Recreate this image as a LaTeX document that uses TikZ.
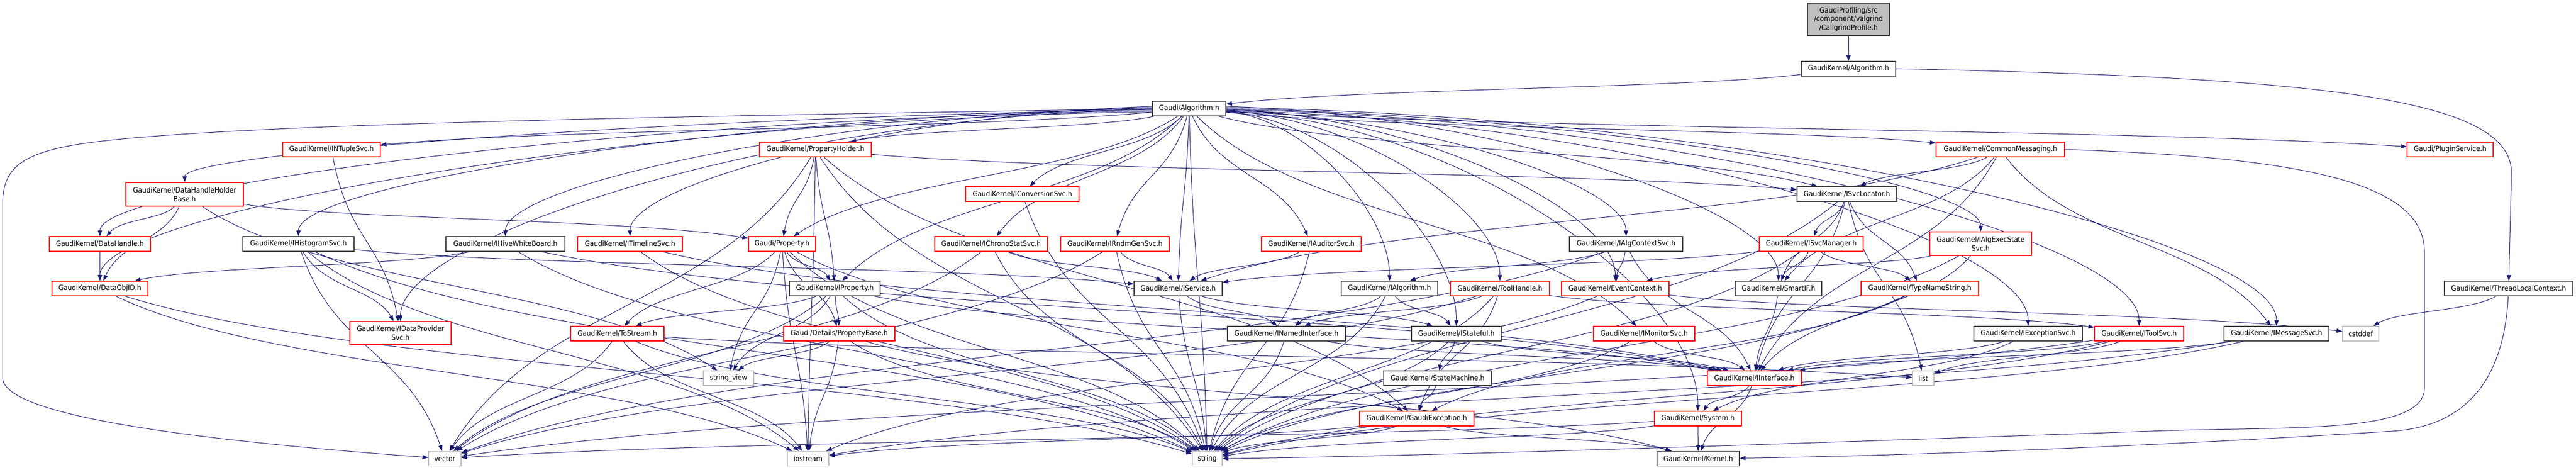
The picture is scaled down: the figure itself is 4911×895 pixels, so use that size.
\documentclass[tikz,border=0pt]{standalone}
\usepackage{fontspec}
\setmainfont[FakeStretch=0.9]{DejaVu Sans}
\usetikzlibrary{arrows.meta,calc}
\definecolor{edgec}{HTML}{191970}
\definecolor{redb}{HTML}{FF0000}
\definecolor{blkb}{HTML}{404040}
\definecolor{grayb}{HTML}{C0C0C0}
\definecolor{rootf}{HTML}{BFBFBF}
\pgfdeclarelayer{bg}
\pgfsetlayers{bg,main}
\newcommand\nfont{\fontsize{14}{16.7}\selectfont}
\tikzset{
 box/.style={rectangle, draw, fill=white, inner sep=0pt, line width=1.3pt, font=\nfont, align=center, text=black},
 redbox/.style={box, draw=redb},
 blkbox/.style={box, draw=blkb},
 grybox/.style={box, draw=grayb},
 rootbox/.style={box, draw=blkb, fill=rootf},
 dep/.style={draw=edgec, line width=1pt, -{Triangle[length=11pt,width=8pt]}},
}
\newcommand\Nd[7]{\node[#6,minimum width=#4pt,minimum height=#5pt] (#1) at (#2,#3) {#7};}
\newcommand\Ed[3][]{%
  \path ($(#2)!0.25!(#3)$) coordinate (q1) ($(#2)!0.5!(#3)$) coordinate (q2) ($(#2)!0.75!(#3)$) coordinate (q3);
  \draw[dep,#1] (#2) .. controls (q1 |- q2) and (q3 |- q2) .. (#3);}
\newcommand\GLe[2][0]{%
  \draw[dep] let \p1=(#2.north), \p2=($(ga.west)+(0,#1)$) in (\p2) .. controls ({\x1+0.5*(\x2-\x1)},{\y2-15pt}) and (\x1,{\y2+0.6*(\y1-\y2)}) .. (#2);}
\newcommand\GRe[2][0]{%
  \draw[dep] let \p1=(#2.north), \p2=($(ga.east)+(0,#1)$) in (\p2) .. controls ({\x1+0.5*(\x2-\x1)},{\y2-15pt}) and (\x1,{\y2+0.6*(\y1-\y2)}) .. (#2);}
\begin{document}
\begin{tikzpicture}[x=1pt,y=-1pt]
\useasboundingbox (0,0) rectangle (4911,895);
\Nd{cg}{3524}{37}{156}{62}{rootbox}{GaudiProfiling/src\\/component/valgrind\\/CallgrindProfile.h}
\Nd{gka}{3524}{131}{180}{28}{blkbox}{GaudiKernel/Algorithm.h}
\Nd{ga}{2267}{207}{140}{28}{blkbox}{Gaudi/Algorithm.h}
\Nd{ntup}{632}{285}{186}{28}{redbox}{GaudiKernel/INTupleSvc.h}
\Nd{ph}{1554.5}{285}{213}{28}{redbox}{GaudiKernel/PropertyHolder.h}
\Nd{cm}{3813.5}{285}{245}{28}{redbox}{GaudiKernel/CommonMessaging.h}
\Nd{plug}{4671}{285}{164}{28}{redbox}{Gaudi/PluginService.h}
\Nd{dhhb}{352}{370.5}{224}{45}{redbox}{GaudiKernel/DataHandleHolder\\Base.h}
\Nd{conv}{1949}{370}{216}{28}{redbox}{GaudiKernel/IConversionSvc.h}
\Nd{svcloc}{3521}{370}{190}{28}{blkbox}{GaudiKernel/ISvcLocator.h}
\Nd{dh}{190.5}{465}{193}{28}{redbox}{GaudiKernel/DataHandle.h}
\Nd{hist}{569}{465}{212}{28}{blkbox}{GaudiKernel/IHistogramSvc.h}
\Nd{hive}{963.5}{465}{227}{28}{blkbox}{GaudiKernel/IHiveWhiteBoard.h}
\Nd{tl}{1201}{465}{200}{28}{redbox}{GaudiKernel/ITimelineSvc.h}
\Nd{prop}{1491}{465}{128}{28}{redbox}{Gaudi/Property.h}
\Nd{chrono}{1889.5}{465}{215}{28}{redbox}{GaudiKernel/IChronoStatSvc.h}
\Nd{rndm}{2125.5}{465}{207}{28}{redbox}{GaudiKernel/IRndmGenSvc.h}
\Nd{aud}{2500}{465}{190}{28}{redbox}{GaudiKernel/IAuditorSvc.h}
\Nd{actx}{3100}{465}{216}{28}{blkbox}{GaudiKernel/IAlgContextSvc.h}
\Nd{svcmgr}{3453}{465}{198}{28}{redbox}{GaudiKernel/ISvcManager.h}
\Nd{aexec}{3776}{464.5}{194}{45}{redbox}{GaudiKernel/IAlgExecState\\Svc.h}
\Nd{doid}{190.5}{550}{183}{28}{redbox}{GaudiKernel/DataObjID.h}
\Nd{iprop}{1591.5}{550}{173}{28}{blkbox}{GaudiKernel/IProperty.h}
\Nd{isvc}{2246}{550}{168}{28}{blkbox}{GaudiKernel/IService.h}
\Nd{ialg}{2649}{550}{184}{28}{blkbox}{GaudiKernel/IAlgorithm.h}
\Nd{tool}{2859.5}{550}{189}{28}{redbox}{GaudiKernel/ToolHandle.h}
\Nd{ectx}{3079.5}{550}{205}{28}{redbox}{GaudiKernel/EventContext.h}
\Nd{smart}{3390.5}{550}{165}{28}{blkbox}{GaudiKernel/SmartIF.h}
\Nd{tns}{3660}{550}{224}{28}{redbox}{GaudiKernel/TypeNameString.h}
\Nd{tlc}{4782.5}{550}{245}{28}{blkbox}{GaudiKernel/ThreadLocalContext.h}
\Nd{dps}{763.5}{635}{193}{44}{redbox}{GaudiKernel/IDataProvider\\Svc.h}
\Nd{tos}{1177}{636}{178}{28}{redbox}{GaudiKernel/ToStream.h}
\Nd{pbase}{1600}{636}{212}{28}{redbox}{Gaudi/Details/PropertyBase.h}
\Nd{nif}{2452.5}{636}{225}{28}{blkbox}{GaudiKernel/INamedInterface.h}
\Nd{stf}{2776.5}{636}{171}{28}{blkbox}{GaudiKernel/IStateful.h}
\Nd{mon}{3134.5}{636}{193}{28}{redbox}{GaudiKernel/IMonitorSvc.h}
\Nd{exc}{3866.5}{636}{207}{28}{blkbox}{GaudiKernel/IExceptionSvc.h}
\Nd{toolsvc}{4078}{636}{170}{28}{redbox}{GaudiKernel/IToolSvc.h}
\Nd{msg}{4340}{636}{200}{28}{blkbox}{GaudiKernel/IMessageSvc.h}
\Nd{cstd}{4500.5}{636}{69}{28}{grybox}{cstddef}
\Nd{sv}{1389}{721}{96}{28}{grybox}{string\_view}
\Nd{sm}{2740.5}{721}{205}{28}{blkbox}{GaudiKernel/StateMachine.h}
\Nd{iif}{3344.5}{721}{179}{28}{redbox}{GaudiKernel/IInterface.h}
\Nd{list}{3666.5}{721}{41}{28}{grybox}{list}
\Nd{gex}{2701}{798}{218}{28}{redbox}{GaudiKernel/GaudiException.h}
\Nd{sys}{3237}{798}{166}{28}{redbox}{GaudiKernel/System.h}
\Nd{vec}{848}{874.5}{62}{28}{grybox}{vector}
\Nd{ios}{1540.5}{874.5}{79}{28}{grybox}{iostream}
\Nd{str}{2301.5}{874.5}{57}{28}{grybox}{string}
\Nd{kern}{3237.5}{874.5}{157}{28}{blkbox}{GaudiKernel/Kernel.h}
\begin{pgfonlayer}{bg}
\draw[dep] (cg) -- (gka);
\Ed{gka}{ga}
\draw[dep] (gka.east) .. controls (4450,148) and (4788,190) .. (4788,330) -- (tlc);
\Ed{tlc}{cstd}
\draw[dep] (tlc) .. controls (4775,700) and (4720,812) .. (4560,822) .. controls (4200,845) and (3700,868) .. (kern);
% Gaudi/Algorithm.h
\Ed{ga}{ntup}
\Ed{ga}{ph}
\Ed{ga}{cm}
\Ed{ga}{plug}
\GLe[2]{dhhb}
\Ed{ga}{conv}
\Ed{ga}{svcloc}
\GLe[4]{dh}
\GLe[0]{hist}
\GLe[-2]{hive}
\GLe[-4]{tl}
\Ed{ga}{prop}
\Ed{ga}{chrono}
\Ed{ga}{rndm}
\Ed{ga}{aud}
\GRe[3]{actx}
\GRe[0]{aexec}
\GLe[6]{doid}
\Ed{ga}{iprop}
\Ed{ga}{isvc}
\GRe[5]{ialg}
\GRe[4]{tool}
\GRe[1]{ectx}
\GLe[1]{dps}
\GRe[6]{stf}
\Ed{ga}{mon}
\GRe[4]{exc}
\GRe[2]{toolsvc}
\GRe[-2]{msg}
\GRe[6]{sys}
\GRe[-4]{smart}
\Ed{ga}{str}
\draw[dep] (ga.west) .. controls (1300,222) and (450,235) .. (170,272) .. controls (40,290) and (5,320) .. (5,390) -- (5,720) .. controls (5,800) and (450,845) .. (vec);
% others
\Ed{ntup}{dps}
\Ed{ph}{prop}
\Ed{ph}{iprop}
\Ed{ph}{svcloc}
\Ed{ph}{gex}
\Ed{ph}{ios}
\Ed{ph}{vec}
\Ed{ph}{str}
\Ed{cm}{svcloc}
\Ed{cm}{msg}
\Ed{cm}{isvc}
\Ed{cm}{smart}
\Ed{cm}{iif}
\draw[dep] (cm.east) .. controls (4400,300) and (4622,350) .. (4622,480) -- (4622,740) .. controls (4622,830) and (4350,812) .. (4100,822) .. controls (3300,850) and (2700,870) .. (str);
\Ed{dhhb}{dh}
\Ed{dhhb}{doid}
\Ed{dhhb}{prop}
\Ed{dhhb}{sv}
\Ed{conv}{str}
\Ed{svcloc}{svcmgr}
\Ed{svcloc}{tns}
\Ed{svcloc}{list}
\Ed{svcloc}{smart}
\Ed{svcloc}{iif}
\Ed{svcloc}{str}
\Ed{dh}{doid}
\Ed{hist}{dps}
\Ed{hist}{isvc}
\Ed{hist}{vec}
\Ed{hist}{str}
\Ed{hist}{ios}
\Ed{hive}{doid}
\Ed{hive}{iif}
\Ed{hive}{str}
\Ed{tl}{iif}
\Ed{tl}{str}
\Ed{prop}{iprop}
\Ed{prop}{pbase}
\Ed{prop}{tos}
\Ed{prop}{sv}
\Ed{prop}{str}
\Ed{prop}{gex}
\Ed{prop}{ios}
\Ed{chrono}{isvc}
\Ed{chrono}{str}
\Ed{chrono}{vec}
\Ed{rndm}{isvc}
\Ed{rndm}{str}
\Ed{rndm}{vec}
\Ed{aud}{isvc}
\Ed{aud}{str}
\Ed{actx}{ialg}
\Ed{actx}{ectx}
\Ed{actx}{iif}
\Ed{actx}{vec}
\Ed{svcmgr}{isvc}
\Ed{svcmgr}{smart}
\Ed{svcmgr}{tns}
\Ed{svcmgr}{str}
\Ed{aexec}{ectx}
\Ed{aexec}{iif}
\Ed{aexec}{str}
\Ed{doid}{str}
\Ed{doid}{ios}
\Ed{iprop}{tos}
\Ed{iprop}{pbase}
\Ed{iprop}{iif}
\Ed{iprop}{str}
\Ed{iprop}{vec}
\Ed{iprop}{sv}
\Ed{pbase}{sv}
\Ed{pbase}{ios}
\Ed{pbase}{str}
\Ed{pbase}{kern}
\Ed{tos}{vec}
\Ed{tos}{ios}
\Ed{tos}{str}
\Ed{tos}{list}
\Ed{isvc}{str}
\Ed{isvc}{nif}
\Ed{isvc}{stf}
\Ed{nif}{iif}
\Ed{nif}{str}
\Ed{ialg}{nif}
\Ed{ialg}{stf}
\Ed{ialg}{str}
\Ed{tool}{nif}
\Ed{tool}{toolsvc}
\Ed{tool}{gex}
\Ed{tool}{str}
\Ed{tool}{vec}
\Ed{ectx}{ios}
\Ed{ectx}{cstd}
\Ed{stf}{sm}
\Ed{stf}{iif}
\Ed{stf}{str}
\Ed{mon}{iif}
\Ed{mon}{str}
\Ed{sm}{gex}
\Ed{gex}{str}
\Ed{gex}{ios}
\Ed{gex}{kern}
\Ed{sys}{kern}
\Ed{sys}{str}
\Ed{sys}{vec}
\Ed{iif}{kern}
\Ed{iif}{sys}
\Ed{smart}{iif}
\Ed{tns}{str}
\Ed{tns}{gex}
\Ed{exc}{iif}
\Ed{exc}{sys}
\Ed{toolsvc}{iif}
\Ed{toolsvc}{list}
\Ed{toolsvc}{str}
\Ed{toolsvc}{vec}
\Ed{msg}{iif}
\Ed{msg}{str}
\Ed{msg}{ios}
\end{pgfonlayer}
\end{tikzpicture}
\end{document}
